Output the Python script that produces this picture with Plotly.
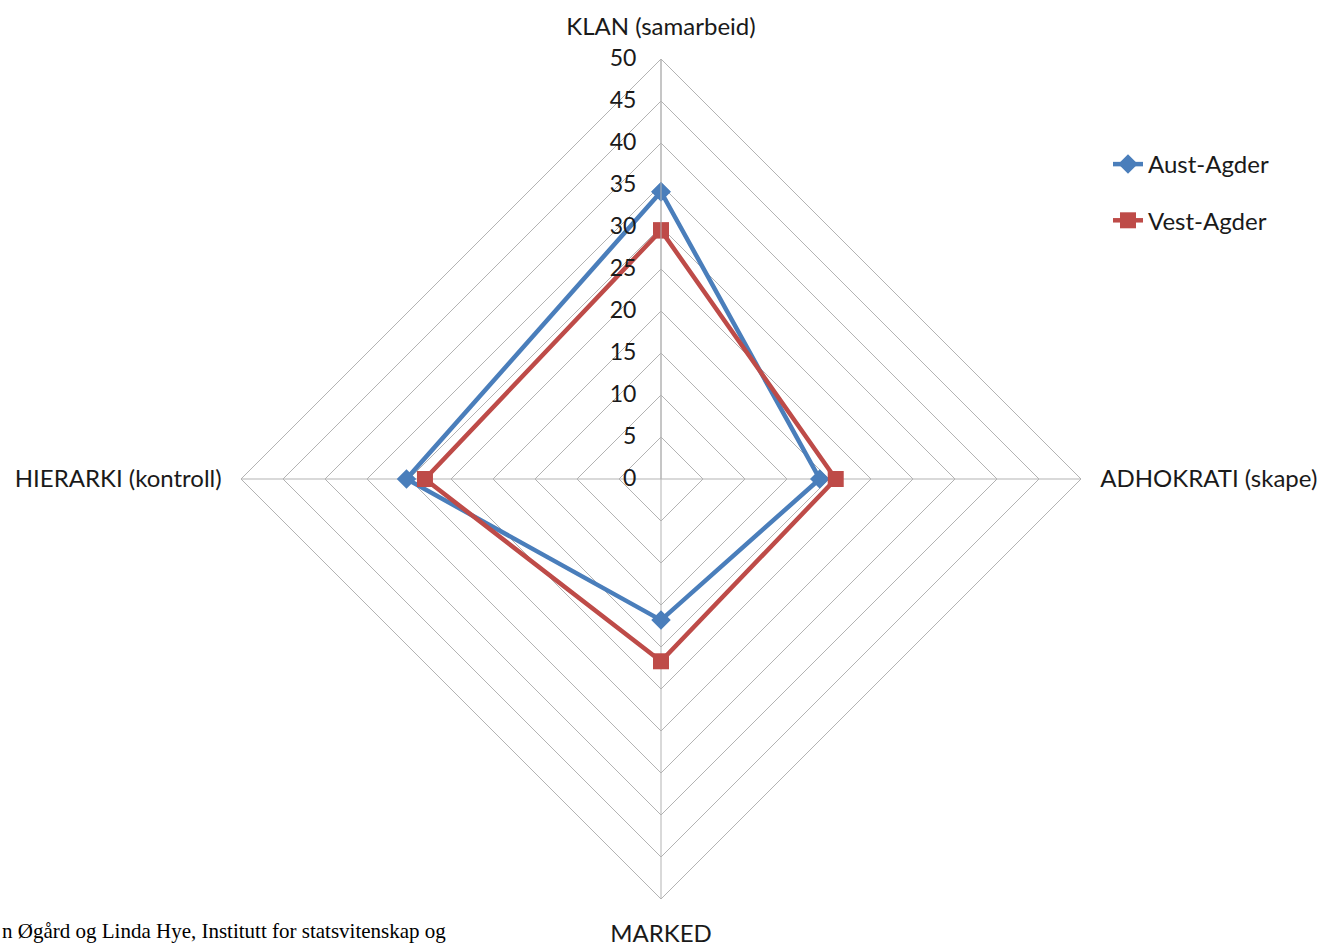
import plotly.graph_objects as go

# Culture profile dimensions (clockwise from top)
dimensions = ["KLAN (samarbeid)", "ADHOKRATI (skape)", "MARKED", "HIERARKI (kontroll)"]

aust_agder = [34.2, 18.9, 16.8, 30.3]
vest_agder = [29.6, 20.8, 21.7, 28.1]

radial_ticks = [0, 5, 10, 15, 20, 25, 30, 35, 40, 45, 50]

W, H = 1317, 948
cx, cy, R = 661, 479, 420  # plot centre and radius in pixels

def closed(values):
    return values + values[:1]

fig = go.Figure()
fig.add_trace(go.Scatterpolar(
    r=closed(aust_agder), theta=closed(dimensions), name="Aust-Agder",
    legendgroup="a", mode="lines+markers",
    line=dict(color="#4a7ebb", width=4.5),
    marker=dict(symbol="diamond", size=15, color="#4a7ebb"),
))
fig.add_trace(go.Scatterpolar(
    r=closed(vest_agder), theta=closed(dimensions), name="Vest-Agder",
    legendgroup="b", mode="lines+markers",
    line=dict(color="#be4b48", width=4.5),
    marker=dict(symbol="square", size=16, color="#be4b48"),
))

grid = "#b3b3b3"
invisible = "rgba(0,0,0,0)"
fig.update_layout(
    width=W, height=H,
    margin=dict(l=0, r=0, t=0, b=0),
    paper_bgcolor="white",
    font=dict(family="Lato, Open Sans, sans-serif", size=24, color="#1a1a1a"),
    polar=dict(
        domain=dict(x=[(cx - R) / W, (cx + R) / W],
                    y=[(H - cy - R) / H, (H - cy + R) / H]),
        gridshape="linear",
        bgcolor="white",
        radialaxis=dict(
            range=[0, 50], tickvals=radial_ticks, angle=90,
            side="counterclockwise", tickangle=90,
            showline=True, linecolor=grid, linewidth=1,
            gridcolor=grid, gridwidth=1,
            ticks="outside", ticklen=16, tickcolor=invisible,
            tickfont=dict(size=23, color="#1a1a1a"),
        ),
        angularaxis=dict(
            rotation=90, direction="clockwise",
            showline=True, linecolor=grid, linewidth=1,
            gridcolor=grid, gridwidth=1,
            ticks="outside", ticklen=14, tickcolor=invisible,
            tickfont=dict(size=24, color="#1a1a1a"),
        ),
    ),
    legend=dict(
        x=1108 / W, y=1 - 142 / H, xanchor="left", yanchor="top",
        font=dict(size=24, color="#1a1a1a"),
        tracegroupgap=22,
        bgcolor="rgba(0,0,0,0)",
    ),
    annotations=[dict(
        text="n Øgård og Linda Hye, Institutt for statsvitenskap og",
        xref="paper", yref="paper", x=0, y=1 - 931 / H,
        xanchor="left", yanchor="middle", showarrow=False,
        font=dict(family="Liberation Serif, serif", size=21, color="black"),
    )],
)

fig.write_html("out.html")
